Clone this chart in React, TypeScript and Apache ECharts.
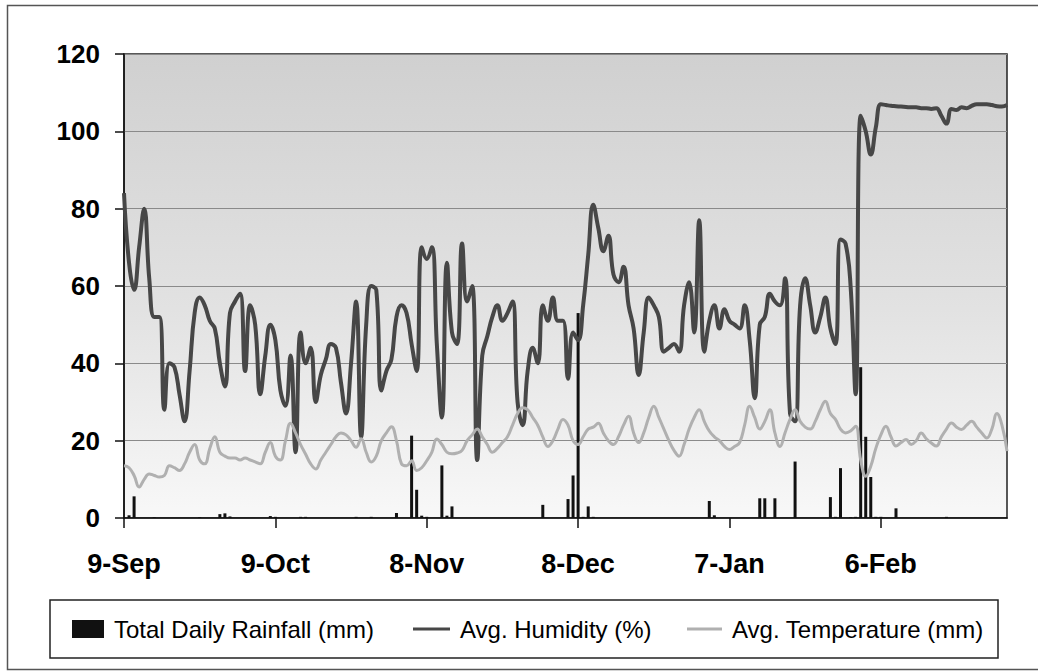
import React, { useEffect, useRef } from 'react';
import * as echarts from 'echarts';

// ---- data ----
const startYear = 2006;
const startMonth = 8; // September (0-based)
const startDay = 9;
const tickLabels = ['9-Sep', '9-Oct', '8-Nov', '8-Dec', '7-Jan', '6-Feb'];
const seriesNames = ['Total Daily Rainfall (mm)', 'Avg. Humidity (%)', 'Avg. Temperature (mm)'];

const rainfall = [
  0, 0.7, 5.6, 0, 0, 0, 0.2, 0, 0, 0,
  0, 0, 0, 0, 0, 0.2, 0, 0, 0, 1.0,
  1.2, 0.4, 0, 0, 0, 0, 0, 0, 0, 0.5,
  0.3, 0, 0, 0, 0, 0.3, 0.3, 0, 0, 0,
  0, 0, 0, 0, 0, 0, 0.3, 0, 0, 0.3,
  0, 0, 0, 0, 1.3, 0, 0, 21.3, 7.3, 0.6,
  0.3, 0, 0, 13.6, 0.6, 3.0, 0, 0, 0, 0,
  0, 0, 0, 0, 0, 0, 0, 0, 0, 0,
  0, 0, 0, 3.4, 0, 0, 0, 0, 4.9, 11,
  53, 0.3, 3.0, 0.3, 0, 0, 0, 0, 0, 0,
  0, 0, 0, 0, 0, 0, 0, 0, 0, 0,
  0, 0, 0, 0, 0, 0, 4.4, 0.7, 0, 0,
  0, 0, 0, 0, 0, 0, 5.1, 5.1, 0, 5.1,
  0, 0, 0, 14.6, 0, 0, 0, 0, 0, 0,
  5.4, 0.3, 12.9, 0, 0.2, 0.3, 39, 21, 10.6, 0.3,
  0.3, 0, 0, 2.5, 0, 0, 0, 0, 0, 0,
  0, 0, 0, 0.3, 0, 0, 0, 0, 0, 0,
  0, 0, 0, 0, 0, 0,
];

const humidity = [
  84, 66, 59, 70, 80, 62, 52, 52, 28, 40,
  39, 32, 25, 38, 53, 57, 55, 51, 49, 40,
  34, 53, 56, 58, 38, 55, 50, 32, 42, 50,
  46, 33, 29, 42, 17, 48, 40, 44, 30, 37,
  41, 45, 44, 35, 27, 40, 56, 21, 50, 60,
  59, 33, 38, 41, 52, 55, 53, 45, 38, 70,
  67, 70, 45, 26, 66, 48, 45, 71, 56, 60,
  15, 42, 47, 52, 55, 51, 53, 56, 30, 24,
  38, 44, 40, 55, 51, 57, 51, 51, 36, 48,
  46, 55, 68, 81, 75, 69, 73, 63, 61, 65,
  55, 49, 37, 48, 57, 55, 52, 43, 44, 45,
  43, 55, 61, 48, 77, 43, 51, 55, 49, 54,
  51, 50, 49, 55, 46, 31, 50, 52, 58, 56,
  55, 62, 27, 25, 55, 62, 55, 48, 52, 57,
  49, 45, 72, 71, 60, 32, 104, 100, 94, 101,
  107, 106.8, 106.6, 106.5, 106.4, 106.3, 106.2, 106.2, 106, 106,
  105.8, 106, 104, 102, 105.8, 105.5, 106.2, 106, 106.6, 107,
  107, 107, 106.8, 106.5, 106.4, 106.8,
];

const temperature = [
  13.5, 13, 11, 8, 10, 11.4, 11, 10.6, 11, 13.5,
  13, 12.3, 14, 17, 19, 15, 14, 18, 21, 17,
  16, 15.5, 15.5, 15, 15.5, 15, 14.5, 14, 17, 19.5,
  16, 15, 20, 24.5, 22, 19, 16.5, 14, 12.7, 15,
  17, 19, 21, 22, 21.5, 20, 18.3, 20.5, 17, 14.5,
  16, 20, 22, 23.6, 20, 14, 13.5, 14.8, 12.3, 13,
  14.8, 17, 20.4, 19, 17, 16.6, 16.8, 17.5, 20, 21.5,
  23, 21, 19, 17, 18, 19.5, 21, 24, 27, 28.5,
  28, 26, 24, 21, 18.5, 20, 23, 25.5, 24, 20,
  19, 21, 23, 23.5, 24.5, 22, 20, 19, 21, 24,
  26.3, 22, 19.5, 22, 26, 28.9, 26, 23, 20, 17.5,
  16, 19, 23, 26, 28, 25, 22.5, 21, 20, 18.5,
  17.7, 18.5, 19.5, 24, 28.9, 26, 23, 25, 28, 22,
  18.5, 22, 25.5, 28, 25, 23.5, 23, 25, 28, 30.2,
  27, 25.5, 23, 22, 22.5, 23.7, 15, 10.8, 13.4, 18,
  21.5, 23.7, 21, 18.6, 19.5, 20.3, 19, 20, 22, 20.5,
  19.4, 18.6, 21, 23, 24.6, 23.5, 22.9, 24, 25, 23.5,
  22, 20.7, 23, 27, 24, 17.3,
];

const MONTHS = ['Jan', 'Feb', 'Mar', 'Apr', 'May', 'Jun', 'Jul', 'Aug', 'Sep', 'Oct', 'Nov', 'Dec'];
const categories = humidity.map((_, i) => {
  const d = new Date(Date.UTC(startYear, startMonth, startDay + i));
  return `${d.getUTCDate()}-${MONTHS[d.getUTCMonth()]}`;
});

const FONT = '"Liberation Sans", Arial, sans-serif';

export default function App() {
  const ref = useRef<HTMLDivElement>(null);

  useEffect(() => {
    if (!ref.current) return;
    const chart = echarts.init(ref.current, undefined, { renderer: 'svg' });
    const showTick = (index: number, value: string) => index % 30 === 0 && tickLabels.includes(value);

    const legendBase = {
      top: 617,
      padding: 0,
      orient: 'horizontal',
      selectedMode: false,
      textStyle: { fontSize: 24, fontFamily: FONT, color: '#000', padding: [0, 0, 0, 5] },
    };

    chart.setOption({
      animation: false,
      backgroundColor: '#ffffff',
      grid: {
        left: 124,
        top: 54,
        right: 31,
        bottom: 153,
        show: true,
        borderColor: '#222',
        borderWidth: 1.5,
        backgroundColor: new echarts.graphic.LinearGradient(0, 0, 0, 1, [
          { offset: 0, color: '#d0d0d0' },
          { offset: 0.55, color: '#e2e2e2' },
          { offset: 1, color: '#f8f8f8' },
        ]),
      },
      graphic: [
        {
          type: 'rect',
          silent: true,
          z: -10,
          shape: { x: 7.5, y: 5.5, width: 1040, height: 664 },
          style: { fill: 'none', stroke: '#555', lineWidth: 1.5 },
        },
        {
          type: 'rect',
          silent: true,
          z: 0,
          shape: { x: 50, y: 600, width: 948, height: 58 },
          style: { fill: '#fff', stroke: '#222', lineWidth: 1.5 },
        },
      ],
      legend: [
        {
          ...legendBase,
          left: 72,
          itemWidth: 32,
          itemHeight: 18,
          data: [{ name: seriesNames[0], icon: 'rect' }],
        },
        {
          ...legendBase,
          left: 413,
          itemWidth: 37,
          itemHeight: 3,
          data: [{ name: seriesNames[1], icon: 'rect' }],
        },
        {
          ...legendBase,
          left: 687,
          itemWidth: 35,
          itemHeight: 3,
          data: [{ name: seriesNames[2], icon: 'rect' }],
        },
      ],
      xAxis: {
        type: 'category',
        data: categories,
        boundaryGap: false,
        axisLine: { show: true, lineStyle: { color: '#111', width: 1.5 } },
        axisTick: { show: true, interval: showTick, length: 10, lineStyle: { color: '#111', width: 1.5 } },
        axisLabel: {
          interval: showTick,
          fontSize: 27,
          fontWeight: 'bold',
          fontFamily: FONT,
          color: '#000',
          margin: 32,
        },
        splitLine: { show: false },
      },
      yAxis: {
        type: 'value',
        min: 0,
        max: 120,
        interval: 20,
        axisLine: { show: true, lineStyle: { color: '#111', width: 1.5 } },
        axisTick: { show: true, length: 9, lineStyle: { color: '#111', width: 1.5 } },
        axisLabel: {
          fontSize: 26,
          fontWeight: 'bold',
          fontFamily: FONT,
          color: '#000',
          margin: 24,
        },
        splitLine: { show: true, lineStyle: { color: '#8a8a8a', width: 1 } },
      },
      series: [
        {
          name: seriesNames[0],
          type: 'bar',
          data: rainfall,
          barWidth: 3,
          itemStyle: { color: '#111' },
        },
        {
          name: seriesNames[1],
          type: 'line',
          data: humidity,
          smooth: 0.45,
          symbol: 'none',
          itemStyle: { color: '#474747' },
          lineStyle: { color: '#474747', width: 4 },
        },
        {
          name: seriesNames[2],
          type: 'line',
          data: temperature,
          smooth: 0.45,
          symbol: 'none',
          itemStyle: { color: '#b0b0b0' },
          lineStyle: { color: '#b0b0b0', width: 3 },
        },
      ],
    });

    return () => chart.dispose();
  }, []);

  return (
    <div
      ref={ref}
      style={{ position: 'fixed', left: 0, top: 0, width: 1038, height: 671, background: '#fff' }}
    />
  );
}
